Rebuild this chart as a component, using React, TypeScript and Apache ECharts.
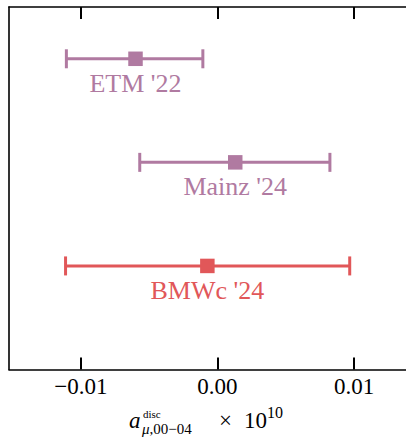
import React, { useEffect, useRef } from "react";
import * as echarts from "echarts";

const labels = ["ETM '22", "Mainz '24", "BMWc '24"];
const centers = [-0.006, 0.0013, -0.00074];
const lowers = [-0.01106, -0.00569, -0.01112];
const uppers = [-0.00107, 0.00823, 0.00968];
const rows = [3, 2, 1];
const colors = ["#b07aa1", "#b07aa1", "#e15759"];
const tickValues = [-0.01, 0, 0.01];

const FONT = "'Liberation Serif', 'DejaVu Serif', serif";

function fmt(v: number) {
  if (Math.abs(v) < 1e-12) return "0.00";
  return (v < 0 ? "\u2212" : "") + Math.abs(v).toFixed(2);
}

export default function App() {
  const ref = useRef<HTMLDivElement>(null);
  useEffect(() => {
    if (!ref.current) return;
    const chart = echarts.init(ref.current, null, { renderer: "svg" });
    const data = labels.map((l, i) => [centers[i], rows[i], lowers[i], uppers[i], i]);
    const axisLine = { show: true, lineStyle: { color: "#000", width: 1.6 } };
    chart.setOption({
      animation: false,
      backgroundColor: "#fff",
      grid: { left: 9, top: 7, width: 400, bottom: 67.5, containLabel: false },
      xAxis: [
        {
          type: "value",
          position: "bottom",
          min: -0.01526,
          max: 0.0138,
          axisLine: { ...axisLine, onZero: false },
          axisTick: { show: true, inside: true, length: 12, customValues: tickValues, lineStyle: { color: "#000", width: 2 } },
          axisLabel: {
            show: true,
            customValues: tickValues,
            formatter: (v: number) => fmt(v),
            fontFamily: FONT,
            fontSize: 23,
            color: "#000",
            margin: 5,
          },
          splitLine: { show: false },
        },
        {
          type: "value",
          position: "top",
          min: -0.01526,
          max: 0.0138,
          axisLine: { ...axisLine, onZero: false },
          axisTick: { show: true, inside: true, length: 12, customValues: tickValues, lineStyle: { color: "#000", width: 2 } },
          axisLabel: { show: false },
          splitLine: { show: false },
        },
      ],
      yAxis: [
        {
          type: "value",
          min: 0,
          max: 3.5,
          axisLine: { ...axisLine, onZero: false },
          axisTick: { show: false },
          axisLabel: { show: false },
          splitLine: { show: false },
        },
      ],
      series: [
        {
          type: "custom",
          xAxisIndex: 0,
          yAxisIndex: 0,
          data,
          clip: false,
          renderItem: (params: any, api: any) => {
            const c = api.value(0);
            const r = api.value(1);
            const lo = api.value(2);
            const hi = api.value(3);
            const idx = api.value(4);
            const color = colors[idx];
            const pc = api.coord([c, r]);
            const pl = api.coord([lo, r]);
            const ph = api.coord([hi, r]);
            const capH = 9.5;
            const sq = 14.5;
            const ls = { stroke: color, lineWidth: 3 };
            return {
              type: "group",
              children: [
                { type: "line", shape: { x1: pl[0], y1: pl[1], x2: ph[0], y2: ph[1] }, style: ls },
                { type: "line", shape: { x1: pl[0], y1: pl[1] - capH, x2: pl[0], y2: pl[1] + capH }, style: ls },
                { type: "line", shape: { x1: ph[0], y1: ph[1] - capH, x2: ph[0], y2: ph[1] + capH }, style: ls },
                { type: "rect", shape: { x: pc[0] - sq / 2, y: pc[1] - sq / 2, width: sq, height: sq }, style: { fill: color } },
                {
                  type: "text",
                  x: pc[0],
                  y: pc[1] + 24.5,
                  style: {
                    text: labels[idx],
                    fill: color,
                    font: `26px ${FONT}`,
                    textAlign: "center",
                    textVerticalAlign: "middle",
                  },
                },
              ],
            };
          },
        },
      ],
      graphic: [
        { type: "text", x: 129, y: 420, style: { text: "a", font: `italic 23px ${FONT}`, fill: "#000", textVerticalAlign: "middle" } },
        { type: "text", x: 143, y: 414, style: { text: "disc", font: `11px ${FONT}`, fill: "#000", textVerticalAlign: "middle" } },
        {
          type: "text",
          x: 142,
          y: 429,
          style: {
            text: "{i|\u03bc},00\u221204",
            font: `15px ${FONT}`,
            fill: "#000",
            textVerticalAlign: "middle",
            rich: { i: { fontStyle: "italic", fontSize: 15, fontFamily: FONT } },
          },
        },
        { type: "text", x: 219, y: 420, style: { text: "\u00d7", font: `23px ${FONT}`, fill: "#000", textVerticalAlign: "middle" } },
        { type: "text", x: 244, y: 420, style: { text: "10", font: `23px ${FONT}`, fill: "#000", textVerticalAlign: "middle" } },
        { type: "text", x: 267, y: 412, style: { text: "10", font: `16px ${FONT}`, fill: "#000", textVerticalAlign: "middle" } },
      ],
    });
    return () => chart.dispose();
  }, []);
  return (
    <div
      ref={ref}
      style={{ position: "fixed", left: 0, top: 0, width: 406, height: 437, background: "#fff" }}
    />
  );
}
